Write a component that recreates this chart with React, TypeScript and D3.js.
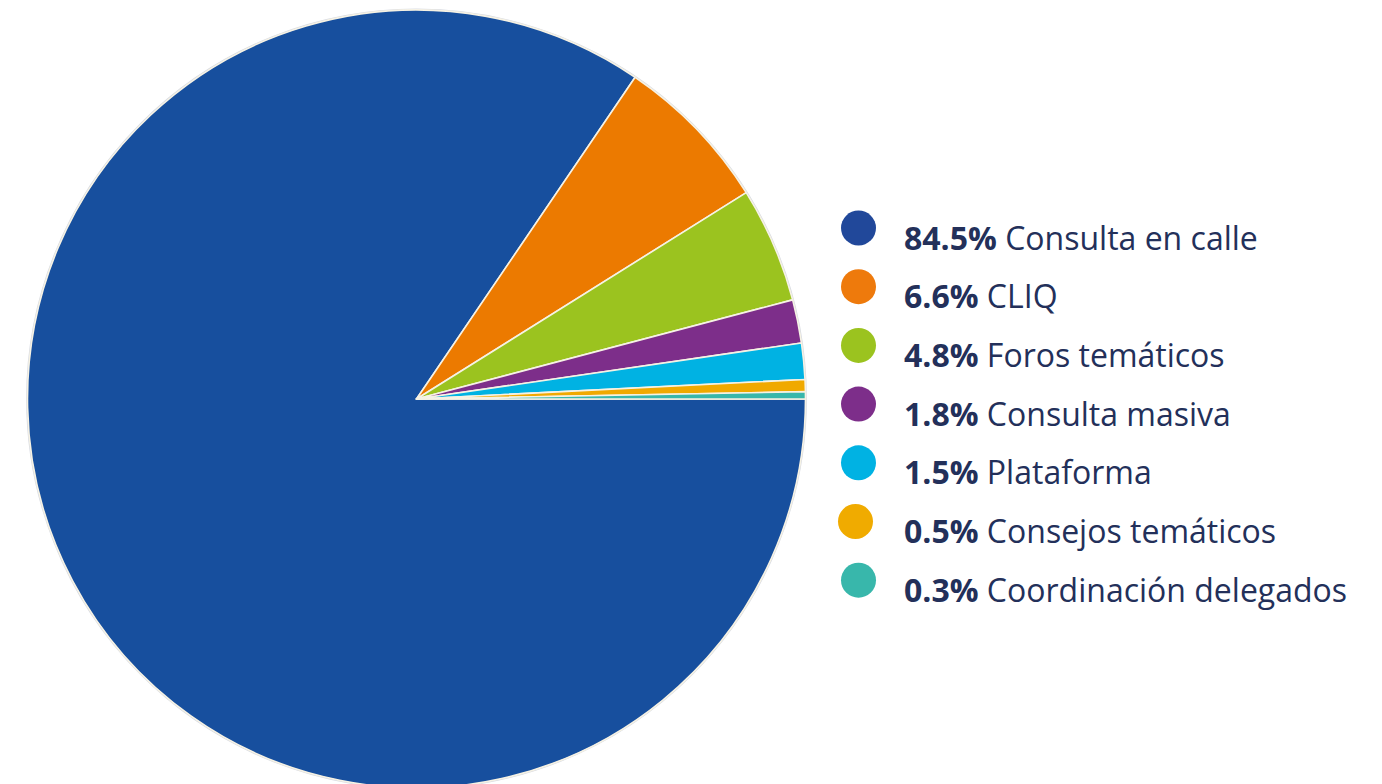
import React from "react";
import * as d3 from "d3";

const categories = [
  "Consulta en calle",
  "CLIQ",
  "Foros temáticos",
  "Consulta masiva",
  "Plataforma",
  "Consejos temáticos",
  "Coordinación delegados",
];
const values = [84.5, 6.6, 4.8, 1.8, 1.5, 0.5, 0.3];
const labels = ["84.5%", "6.6%", "4.8%", "1.8%", "1.5%", "0.5%", "0.3%"];
const sliceColors = ["#174f9e", "#ec7a00", "#9bc31f", "#7d2e8a", "#00b2e3", "#f0a900", "#38b7ab"];
const dotColors = ["#21489a", "#ee7a0c", "#9bc31f", "#7d2e8a", "#00b2e3", "#f0ab00", "#38b7ab"];

const W = 1382;
const H = 784;
const cx = 416.5;
const cy = 399;
const R = 389;

export default function App() {
  const pie = d3
    .pie<number>()
    .sort(null)
    .startAngle(Math.PI / 2)
    .endAngle(Math.PI / 2 + 2 * Math.PI)
    .value((d) => d);
  const arcs = pie(values);
  const arc = d3.arc<d3.PieArcDatum<number>>().innerRadius(0).outerRadius(R);

  const legendY = d3.scaleLinear().domain([0, 1]).range([228, 286.7]);

  return (
    <svg
      width={W}
      height={H}
      style={{ position: "absolute", left: 0, top: 0, background: "#ffffff" }}
    >
      <g transform={`translate(${cx},${cy})`}>
        <circle r={R + 0.8} fill="none" stroke="#d8dbe2" strokeWidth={1.2} />
        {arcs.map((a, i) => (
          <path
            key={categories[i]}
            d={arc(a) || ""}
            fill={sliceColors[i]}
            stroke="#f6f2e4"
            strokeWidth={1.6}
            strokeLinejoin="round"
          />
        ))}
      </g>
      <g fontFamily="'Open Sans', sans-serif" fontSize={32} fill="#23305a">
        {categories.map((c, i) => {
          const y = legendY(i);
          return (
            <g key={c}>
              <circle cx={i === 5 ? 855.5 : 858.5} cy={y} r={17.5} fill={dotColors[i]} />
              <text x={904} y={y + 21.5}>
                <tspan fontWeight={700}>{labels[i]}</tspan>
                <tspan> {c}</tspan>
              </text>
            </g>
          );
        })}
      </g>
    </svg>
  );
}
